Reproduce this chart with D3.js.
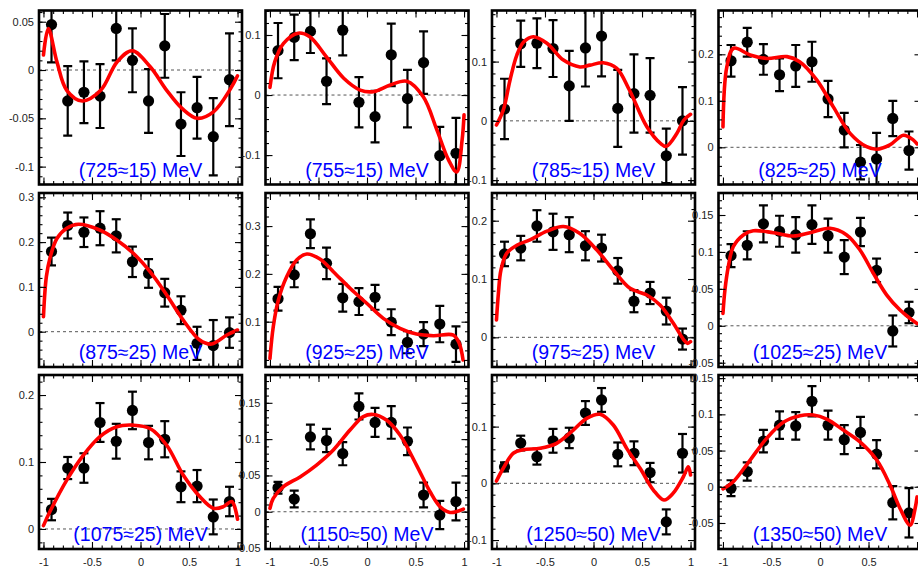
<!DOCTYPE html>
<html>
<head>
<meta charset="utf-8">
<script src="https://cdn.jsdelivr.net/npm/d3@7"></script>
<style>
  body { margin: 0; background: #fff; }
  svg { display: block; }
</style>
</head>
<body>
<svg id="chart"></svg>
<script>
const width = 918;
const height = 569;
const panelWidth = 203;
const panelHeight = 174;
const colLefts = [39, 265.5, 492, 718.5];
const rowTops = [10.5, 193, 375];
const fontFamily = '"Liberation Sans", Arial, Helvetica, sans-serif';

// bin centres in cos(theta)
const binCenters = [-0.917, -0.75, -0.583, -0.417, -0.25, -0.083, 0.083, 0.25, 0.417, 0.583, 0.75, 0.917];
const xTickValues = [-1, -0.5, 0, 0.5, 1];

const panelLabels = [
  "(725≈15) MeV", "(755≈15) MeV", "(785≈15) MeV", "(825≈25) MeV",
  "(875≈25) MeV", "(925≈25) MeV", "(975≈25) MeV", "(1025≈25) MeV",
  "(1075≈25) MeV", "(1150≈50) MeV", "(1250≈50) MeV", "(1350≈50) MeV"
];

const yDomains = [
  [-0.1185, 0.0616], [-0.149, 0.1408], [-0.1074, 0.1862], [-0.080, 0.2942],
  [-0.0788, 0.3096], [0.0052, 0.3692], [-0.0509, 0.2475], [-0.0558, 0.1798],
  [-0.0299, 0.2299], [-0.0513, 0.1883], [-0.1158, 0.191], [-0.0859, 0.1543]
];

const yTickValues = [
  [-0.1, -0.05, 0, 0.05], [-0.1, 0, 0.1], [-0.1, 0, 0.1], [0, 0.1, 0.2],
  [0, 0.1, 0.2, 0.3], [0.1, 0.2, 0.3], [0, 0.1, 0.2], [-0.05, 0, 0.05, 0.1, 0.15],
  [0, 0.1, 0.2], [-0.05, 0, 0.05, 0.1, 0.15], [-0.1, 0, 0.1], [-0.05, 0, 0.05, 0.1, 0.15]
];

const yMinorSteps = [0.01, 0.02, 0.02, 0.02, 0.02, 0.02, 0.02, 0.01, 0.02, 0.01, 0.02, 0.01];

const pointValues = [
  [0.047, -0.032, -0.023, -0.027, 0.043, 0.010, -0.032, 0.025, -0.056, -0.039, -0.069, -0.010],
  [0.074, 0.096, 0.106, 0.023, 0.108, -0.012, -0.036, 0.067, -0.006, 0.054, -0.101, -0.097],
  [0.020, 0.130, 0.131, 0.122, 0.059, 0.123, 0.143, 0.021, 0.046, 0.043, -0.059, 0.000],
  [0.186, 0.226, 0.189, 0.156, 0.175, 0.184, 0.104, 0.037, -0.032, -0.025, 0.062, -0.007],
  [0.179, 0.237, 0.222, 0.231, 0.214, 0.156, 0.130, 0.087, 0.048, -0.026, -0.031, -0.002],
  [0.148, 0.198, 0.284, 0.222, 0.150, 0.142, 0.151, 0.099, 0.057, 0.074, 0.095, 0.053],
  [0.143, 0.153, 0.191, 0.181, 0.176, 0.157, 0.153, 0.114, 0.062, 0.076, 0.045, -0.003],
  [0.095, 0.109, 0.138, 0.128, 0.123, 0.137, 0.122, 0.093, 0.127, 0.075, -0.007, 0.018],
  [0.029, 0.091, 0.091, 0.159, 0.131, 0.177, 0.129, 0.134, 0.063, 0.064, 0.018, 0.041],
  [0.033, 0.0175, 0.103, 0.098, 0.080, 0.145, 0.123, 0.123, 0.097, 0.023, -0.0045, 0.014],
  [0.029, 0.071, 0.047, 0.075, 0.080, 0.124, 0.147, 0.051, 0.053, 0.019, -0.068, 0.053],
  [-0.002, 0.021, 0.063, 0.085, 0.084, 0.118, 0.085, 0.065, 0.075, 0.045, -0.022, -0.036]
];

const pointErrors = [
  [0.039, 0.036, 0.032, 0.033, 0.033, 0.033, 0.033, 0.033, 0.033, 0.032, 0.040, 0.048],
  [0.046, 0.038, 0.036, 0.038, 0.042, 0.042, 0.043, 0.052, 0.048, 0.052, 0.048, 0.059],
  [0.051, 0.039, 0.042, 0.048, 0.059, 0.065, 0.068, 0.065, 0.066, 0.063, 0.046, 0.057],
  [0.034, 0.031, 0.033, 0.035, 0.045, 0.043, 0.039, 0.037, 0.037, 0.056, 0.038, 0.041],
  [0.031, 0.029, 0.033, 0.038, 0.037, 0.034, 0.032, 0.031, 0.031, 0.037, 0.057, 0.034],
  [0.025, 0.026, 0.030, 0.033, 0.029, 0.028, 0.026, 0.027, 0.023, 0.025, 0.038, 0.037],
  [0.021, 0.021, 0.027, 0.031, 0.030, 0.025, 0.023, 0.022, 0.019, 0.019, 0.023, 0.018],
  [0.0155, 0.019, 0.025, 0.021, 0.024, 0.026, 0.023, 0.023, 0.019, 0.016, 0.021, 0.0145],
  [0.016, 0.0165, 0.022, 0.029, 0.026, 0.028, 0.025, 0.027, 0.023, 0.024, 0.026, 0.022],
  [0.008, 0.0115, 0.017, 0.016, 0.016, 0.018, 0.020, 0.0225, 0.019, 0.017, 0.0195, 0.026],
  [0.008, 0.013, 0.014, 0.021, 0.018, 0.021, 0.021, 0.021, 0.021, 0.017, 0.022, 0.034],
  [0.011, 0.0126, 0.0155, 0.019, 0.019, 0.021, 0.020, 0.020, 0.0215, 0.0195, 0.023, 0.034]
];

// fit curves, [cos(theta), value]
const fitCurves = [
  [[-1.0, 0.0155], [-0.95, 0.043], [-0.86, 0.008], [-0.76, -0.021], [-0.6, -0.032], [-0.41, -0.021], [-0.24, 0.0086], [-0.085, 0.020], [0.10, 0.0034], [0.27, -0.021], [0.43, -0.040], [0.585, -0.050], [0.755, -0.043], [0.93, -0.019], [1.0, -0.006]],
  [[-1.0, 0.0128], [-0.95, 0.0556], [-0.86, 0.086], [-0.71, 0.103], [-0.59, 0.097], [-0.42, 0.064], [-0.24, 0.028], [-0.07, 0.0083], [0.065, 0.0056], [0.24, 0.0167], [0.41, 0.023], [0.58, -0.003], [0.72, -0.058], [0.84, -0.108], [0.925, -0.128], [0.98, -0.075], [1.0, -0.033]],
  [[-1.0, -0.007], [-0.93, 0.018], [-0.86, 0.069], [-0.79, 0.111], [-0.72, 0.133], [-0.62, 0.142], [-0.48, 0.131], [-0.31, 0.1025], [-0.14, 0.091], [-0.036, 0.094], [0.10, 0.098], [0.24, 0.0885], [0.37, 0.052], [0.55, -0.010], [0.69, -0.038], [0.75, -0.043], [0.86, -0.021], [0.93, 0.001], [1.0, 0.011]],
  [[-1.0, 0.044], [-0.96, 0.173], [-0.89, 0.213], [-0.72, 0.1985], [-0.55, 0.191], [-0.34, 0.195], [-0.21, 0.184], [-0.034, 0.145], [0.137, 0.087], [0.31, 0.030], [0.48, 0.0013], [0.585, -0.0043], [0.72, 0.005], [0.86, 0.026], [0.96, 0.016], [1.0, 0.007]],
  [[-1.0, 0.0335], [-0.97, 0.123], [-0.93, 0.167], [-0.86, 0.2085], [-0.76, 0.231], [-0.64, 0.2397], [-0.42, 0.227], [-0.245, 0.2047], [-0.074, 0.175], [0.098, 0.134], [0.27, 0.082], [0.44, 0.026], [0.61, -0.0185], [0.734, -0.0275], [0.89, -0.0074], [1.0, 0.0038]],
  [[-1.0, 0.023], [-0.966, 0.0895], [-0.914, 0.145], [-0.828, 0.194], [-0.725, 0.229], [-0.62, 0.2416], [-0.485, 0.231], [-0.347, 0.2046], [-0.175, 0.170], [-0.003, 0.1385], [0.168, 0.107], [0.34, 0.086], [0.51, 0.074], [0.684, 0.0707], [0.89, 0.072], [0.95, 0.0548], [0.99, 0.02]],
  [[-1.0, 0.0297], [-0.98, 0.0755], [-0.954, 0.1154], [-0.895, 0.144], [-0.79, 0.158], [-0.655, 0.167], [-0.48, 0.182], [-0.31, 0.19], [-0.14, 0.178], [0.033, 0.15], [0.204, 0.1154], [0.376, 0.084], [0.55, 0.0726], [0.686, 0.0554], [0.823, 0.024], [0.926, -0.0034], [0.967, -0.0103], [1.0, -0.0075]],
  [[-1.0, 0.0168], [-0.98, 0.048], [-0.945, 0.080], [-0.894, 0.107], [-0.79, 0.123], [-0.687, 0.1287], [-0.48, 0.126], [-0.275, 0.1215], [-0.103, 0.126], [0.103, 0.132], [0.275, 0.123], [0.412, 0.1026], [0.55, 0.071], [0.688, 0.0416], [0.825, 0.0213], [0.928, 0.010], [1.0, 0.003]],
  [[-1.0, 0.005], [-0.933, 0.026], [-0.76, 0.073], [-0.59, 0.110], [-0.418, 0.138], [-0.245, 0.1527], [-0.074, 0.155], [0.098, 0.150], [0.27, 0.125], [0.44, 0.0806], [0.613, 0.048], [0.75, 0.031], [0.854, 0.0333], [0.94, 0.041], [1.0, 0.0145]],
  [[-1.0, 0.0047], [-0.966, 0.0185], [-0.863, 0.0344], [-0.69, 0.048], [-0.52, 0.0643], [-0.347, 0.085], [-0.175, 0.1125], [-0.0375, 0.131], [0.065, 0.134], [0.2, 0.1263], [0.34, 0.1056], [0.51, 0.0643], [0.65, 0.0275], [0.753, 0.0069], [0.856, -0.001], [0.993, 0.0037]],
  [[-1.0, 0.004], [-0.93, 0.0265], [-0.827, 0.053], [-0.724, 0.0593], [-0.55, 0.0617], [-0.38, 0.0705], [-0.208, 0.094], [-0.07, 0.1146], [0.067, 0.1217], [0.204, 0.1028], [0.342, 0.0617], [0.48, 0.0265], [0.617, -0.0118], [0.727, -0.0295], [0.82, -0.0176], [0.926, 0.0116], [0.977, 0.029], [1.0, 0.0146]],
  [[-1.0, -0.003], [-0.894, 0.007], [-0.72, 0.0369], [-0.55, 0.0668], [-0.378, 0.089], [-0.206, 0.098], [-0.069, 0.099], [0.069, 0.0935], [0.24, 0.0783], [0.412, 0.062], [0.585, 0.0369], [0.722, 0.0023], [0.825, -0.030], [0.928, -0.053], [0.98, -0.030], [1.0, -0.014]]
];

const svg = d3.select("#chart")
  .attr("width", width)
  .attr("height", height);

const fmt = v => String(+v.toFixed(2));

function styleAxis(sel, showLabels) {
  sel.select(".domain").remove();
  sel.selectAll(".tick line").attr("stroke", "#000").attr("stroke-width", 1.1);
  sel.selectAll(".tick text")
    .attr("font-family", fontFamily)
    .attr("font-size", 11)
    .attr("fill", "#222");
  if (!showLabels) sel.selectAll(".tick text").remove();
}

panelLabels.forEach((label, i) => {
  const col = i % 4;
  const row = Math.floor(i / 4);
  const g = svg.append("g")
    .attr("transform", `translate(${colLefts[col]},${rowTops[row]})`);

  const x = d3.scaleLinear().domain([-1.046, 1.046]).range([0, panelWidth]);
  const y = d3.scaleLinear().domain(yDomains[i]).range([panelHeight, 0]);

  const clipId = "clip" + i;
  g.append("clipPath").attr("id", clipId)
    .append("rect")
    .attr("width", panelWidth)
    .attr("height", panelHeight);

  const inner = g.append("g").attr("clip-path", `url(#${clipId})`);

  // dashed zero line
  inner.append("line")
    .attr("x1", 0).attr("x2", panelWidth)
    .attr("y1", y(0)).attr("y2", y(0))
    .attr("stroke", "#555")
    .attr("stroke-width", 1)
    .attr("stroke-dasharray", "3,3");

  const pts = binCenters.map((c, k) => ({ x: c, v: pointValues[i][k], e: pointErrors[i][k] }));

  const bars = inner.selectAll(".err")
    .data(pts)
    .enter().append("g")
    .attr("class", "err")
    .attr("stroke", "#000")
    .attr("stroke-width", 2.2);

  bars.append("line")
    .attr("x1", d => x(d.x)).attr("x2", d => x(d.x))
    .attr("y1", d => y(d.v + d.e)).attr("y2", d => y(d.v - d.e));
  bars.append("line")
    .attr("x1", d => x(d.x) - 4.5).attr("x2", d => x(d.x) + 4.5)
    .attr("y1", d => y(d.v + d.e)).attr("y2", d => y(d.v + d.e));
  bars.append("line")
    .attr("x1", d => x(d.x) - 4.5).attr("x2", d => x(d.x) + 4.5)
    .attr("y1", d => y(d.v - d.e)).attr("y2", d => y(d.v - d.e));

  inner.selectAll("circle")
    .data(pts)
    .enter().append("circle")
    .attr("cx", d => x(d.x))
    .attr("cy", d => y(d.v))
    .attr("r", 5.6)
    .attr("fill", "#000");

  const line = d3.line()
    .x(d => x(d[0]))
    .y(d => y(d[1]))
    .curve(d3.curveCatmullRom.alpha(0.5));

  inner.append("path")
    .datum(fitCurves[i])
    .attr("d", line)
    .attr("fill", "none")
    .attr("stroke", "#ff0000")
    .attr("stroke-width", 3.6)
    .attr("stroke-linejoin", "round")
    .attr("stroke-linecap", "round");

  // ticks on all four sides, pointing inward
  const step = yMinorSteps[i];
  const [y0, y1] = yDomains[i];
  const yMinor = d3.range(Math.ceil(y0 / step - 1e-6), Math.floor(y1 / step + 1e-6) + 1).map(k => k * step);
  const xMinor = d3.range(-10, 11).map(k => k / 10);

  g.append("g").call(d3.axisLeft(y).tickValues(yTickValues[i]).tickSize(-7).tickPadding(5).tickFormat(fmt))
    .call(a => styleAxis(a, true));
  g.append("g").call(d3.axisLeft(y).tickValues(yMinor).tickSize(-3.5))
    .call(a => styleAxis(a, false));
  g.append("g").attr("transform", `translate(${panelWidth},0)`)
    .call(d3.axisRight(y).tickValues(yTickValues[i]).tickSize(-7))
    .call(a => styleAxis(a, false));
  g.append("g").attr("transform", `translate(${panelWidth},0)`)
    .call(d3.axisRight(y).tickValues(yMinor).tickSize(-3.5))
    .call(a => styleAxis(a, false));

  const bottomAxis = g.append("g").attr("transform", `translate(0,${panelHeight})`)
    .call(d3.axisBottom(x).tickValues(xTickValues).tickSize(-7).tickPadding(9).tickFormat(fmt))
    .call(a => styleAxis(a, row === 2));
  // the last "1" label falls off the cropped right edge
  if (col === 3) bottomAxis.selectAll(".tick text").filter(d => d === 1).remove();
  g.append("g").attr("transform", `translate(0,${panelHeight})`)
    .call(d3.axisBottom(x).tickValues(xMinor).tickSize(-3.5))
    .call(a => styleAxis(a, false));
  g.append("g")
    .call(d3.axisTop(x).tickValues(xTickValues).tickSize(-7))
    .call(a => styleAxis(a, false));
  g.append("g")
    .call(d3.axisTop(x).tickValues(xMinor).tickSize(-3.5))
    .call(a => styleAxis(a, false));

  // frame
  g.append("rect")
    .attr("width", panelWidth)
    .attr("height", panelHeight)
    .attr("fill", "none")
    .attr("stroke", "#000")
    .attr("stroke-width", 2.6);

  g.append("text")
    .attr("x", panelWidth / 2)
    .attr("y", 166)
    .attr("text-anchor", "middle")
    .attr("font-family", fontFamily)
    .attr("font-size", 19.5)
    .attr("fill", "#0000ff")
    .text(label);
});
</script>
</body>
</html>
